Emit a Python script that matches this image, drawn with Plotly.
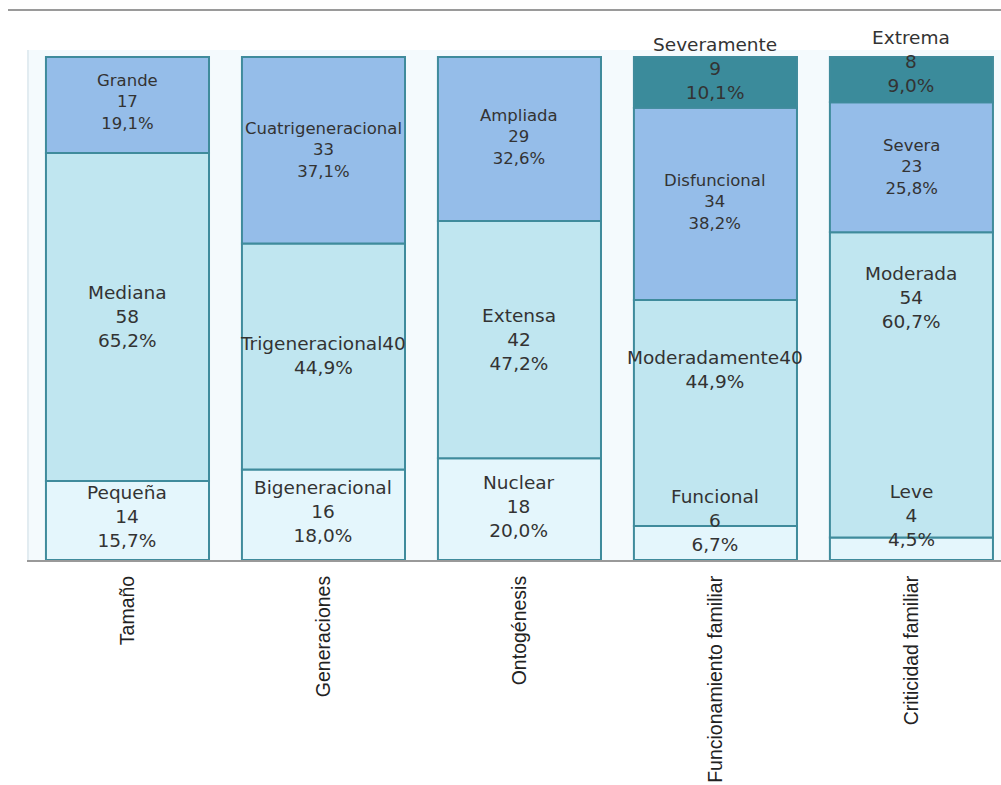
import plotly.graph_objects as go

categories = ["Tamaño", "Generaciones", "Ontogénesis", "Funcionamiento familiar", "Criticidad familiar"]

level1_names = ["Pequeña", "Bigeneracional", "Nuclear", "Funcional", "Leve"]
level1_counts = [14, 16, 18, 6, 4]
level1_pcts = ["15,7%", "18,0%", "20,0%", "6,7%", "4,5%"]

level2_names = ["Mediana", "Trigeneracional", "Extensa", "Moderadamente", "Moderada"]
level2_counts = [58, 40, 42, 40, 54]
level2_pcts = ["65,2%", "44,9%", "47,2%", "44,9%", "60,7%"]

level3_names = ["Grande", "Cuatrigeneracional", "Ampliada", "Disfuncional", "Severa"]
level3_counts = [17, 33, 29, 34, 23]
level3_pcts = ["19,1%", "37,1%", "32,6%", "38,2%", "25,8%"]

level4_names = [None, None, None, "Severamente", "Extrema"]
level4_counts = [None, None, None, 9, 8]
level4_pcts = [None, None, None, "10,1%", "9,0%"]

levels = [
    (level1_names, level1_counts, level1_pcts),
    (level2_names, level2_counts, level2_pcts),
    (level3_names, level3_counts, level3_pcts),
    (level4_names, level4_counts, level4_pcts),
]

# styling
fills = ["#e4f6fc", "#c0e6f0", "#95bde9", "#3b8b9b"]
label_yshift = [
    [4, 3, 3, 23, 33],
    [0, 1, 0, 44, 87],
    [3, 0, 2, 2, 0],
    [0, 0, 0, 14, 18],
]
small_font = [
    [False] * 5,
    [False] * 5,
    [True] * 5,
    [False] * 5,
]
merged_label = [
    [False] * 5,
    [False, True, False, True, False],
    [False] * 5,
    [False] * 5,
]

x_idx = list(range(len(categories)))

fig = go.Figure()
bases = [0] * len(categories)
annotations = []
for li, (names, counts, pcts) in enumerate(levels):
    fig.add_trace(go.Bar(
        x=x_idx, y=counts, base=bases[:],
        width=0.832,
        marker=dict(color=fills[li], line=dict(color="#3f8b9c", width=2)),
        hoverinfo="skip", showlegend=False,
    ))
    for i, c in enumerate(counts):
        if c is None:
            continue
        mid = bases[i] + c / 2
        if merged_label[li][i]:
            txt = f"{names[i]}{c}<br>{pcts[i]}"
        else:
            txt = f"{names[i]}<br>{c}<br>{pcts[i]}"
        annotations.append(dict(
            x=i, y=mid, xref="x", yref="y", text=txt, showarrow=False,
            yshift=label_yshift[li][i],
            font=dict(family="DejaVu Sans", size=16.5 if small_font[li][i] else 18.5, color="#333333"),
        ))
        bases[i] += c

fig.update_layout(
    width=1001, height=785,
    margin=dict(l=29, r=0, t=50, b=225),
    paper_bgcolor="white",
    plot_bgcolor="#f4fafd",
    barmode="overlay",
    annotations=annotations,
    shapes=[dict(type="line", xref="paper", yref="paper",
                 x0=-0.0216, x1=1.0, y0=1.0784, y1=1.0784,
                 line=dict(color="#9a9a9a", width=2))],
)
fig.update_xaxes(
    range=[-0.5025, 4.457],
    tickmode="array", tickvals=x_idx, ticktext=categories,
    tickangle=-90, ticks="", ticklabelstandoff=6,
    tickfont=dict(family="Liberation Sans, Arial", size=19.5, color="#222222"),
    showline=True, linecolor="#999999", linewidth=2,
    showgrid=False, zeroline=False, fixedrange=True,
)
fig.update_yaxes(
    range=[0, 90.24], showticklabels=False, ticks="",
    showgrid=False, zeroline=False,
    showline=True, linecolor="#e2ecf1", linewidth=2,
)

fig.write_html("out.html")
